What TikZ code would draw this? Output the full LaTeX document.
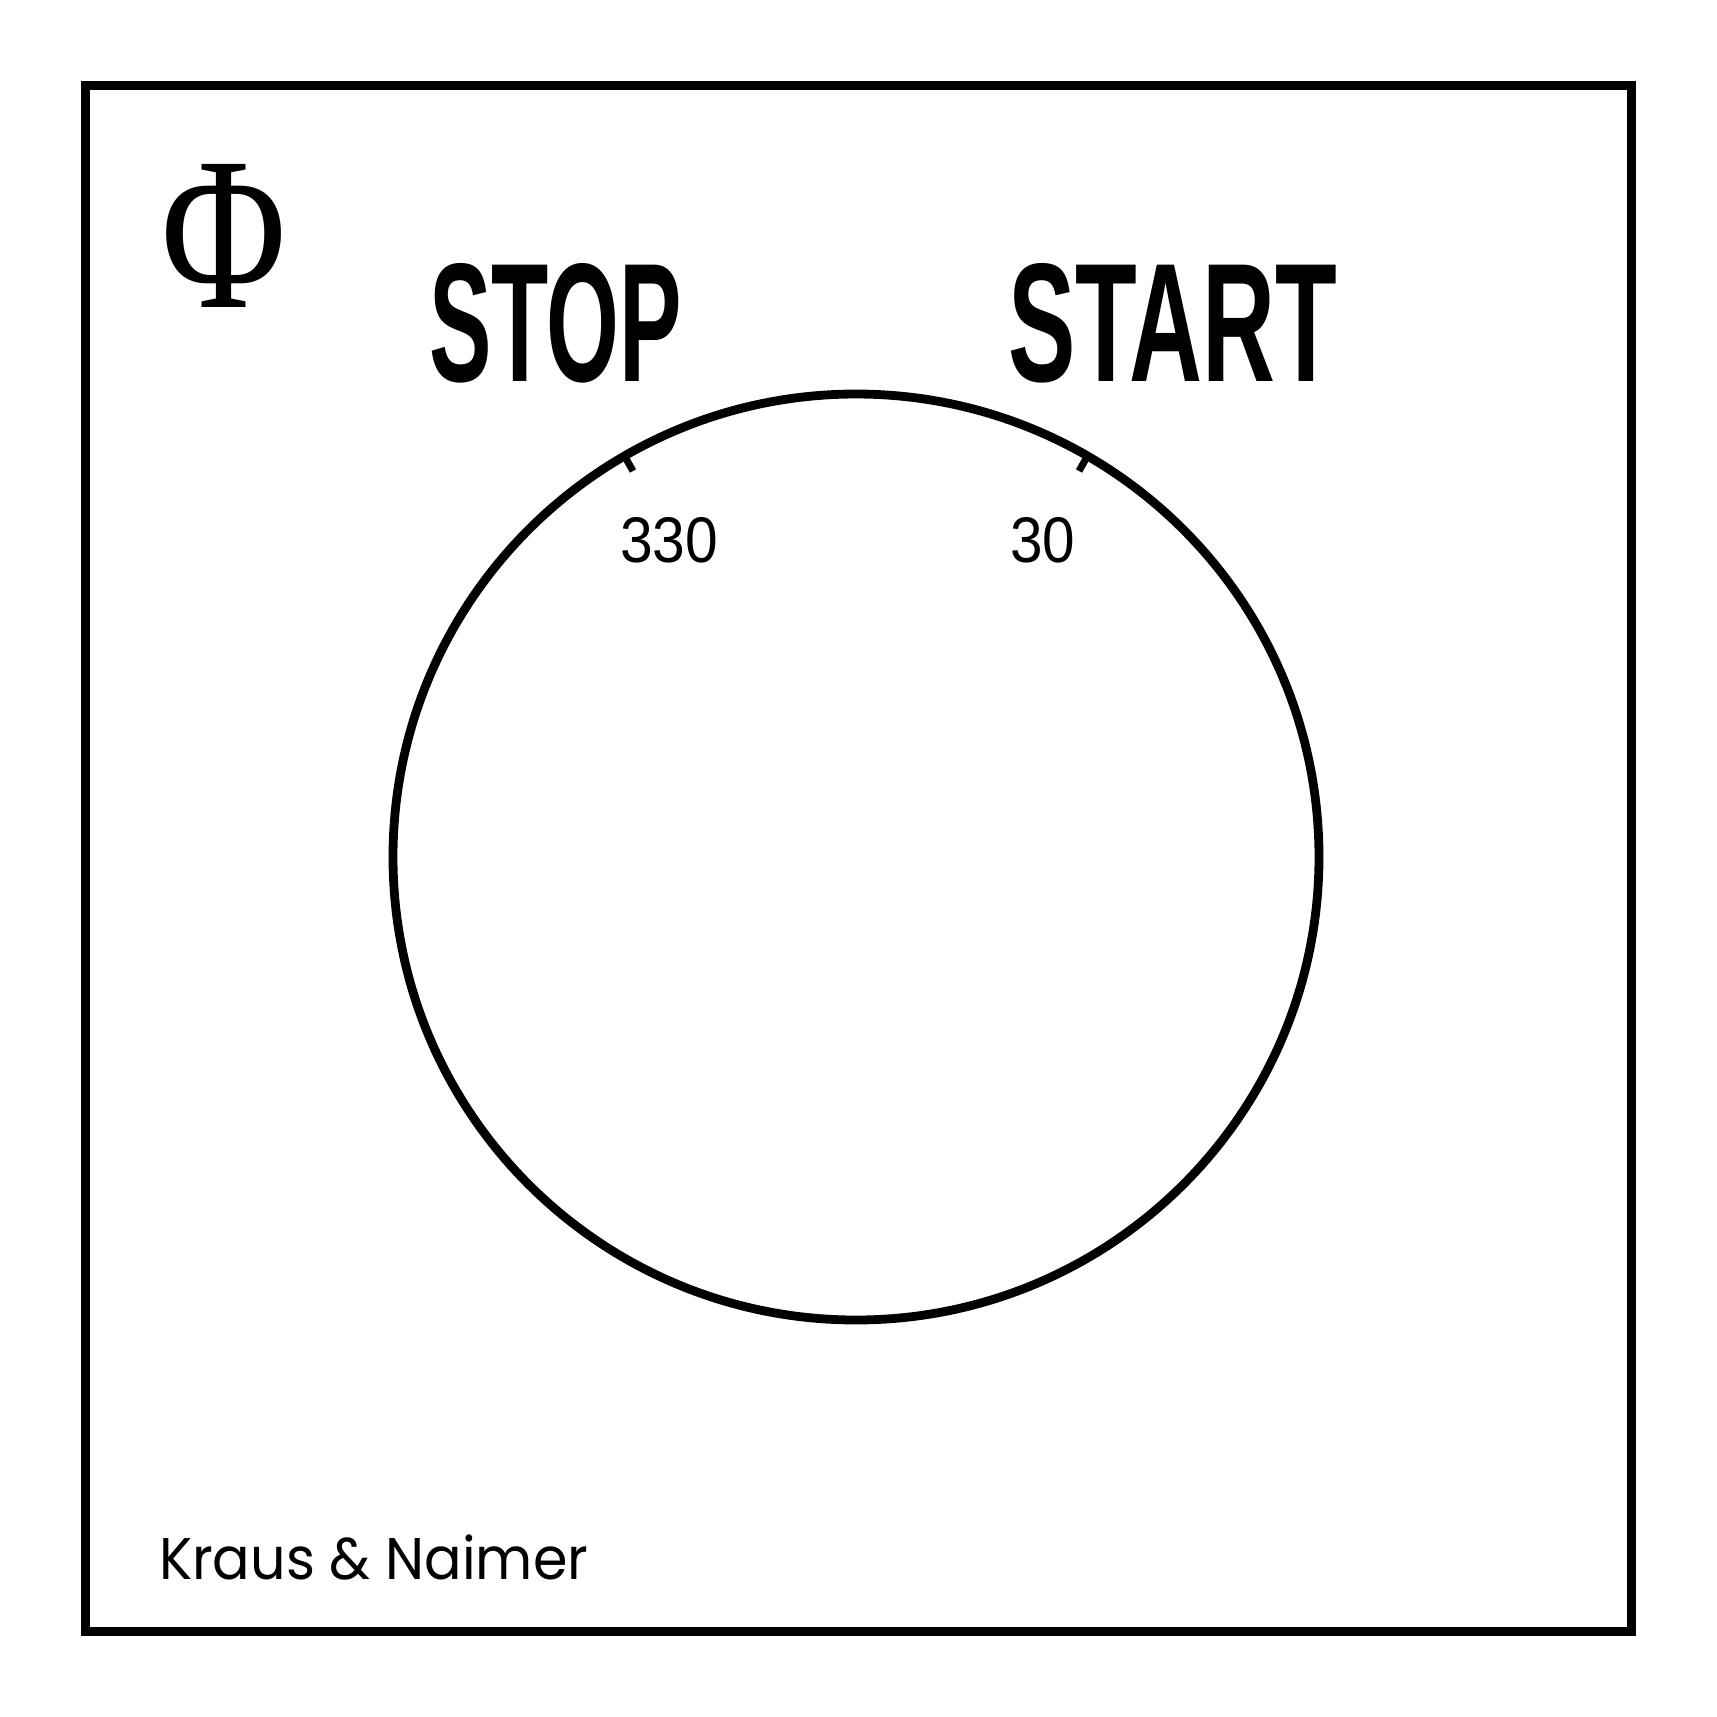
\documentclass[tikz,border=0pt]{standalone}
\usepackage{fontspec}
\setmainfont{Liberation Serif}
\setsansfont{Liberation Sans}
\newfontfamily\kn{Poppins}
\begin{document}
\begin{tikzpicture}[x=0.01cm,y=-0.01cm,
  frame/.style={line width=0.09cm},
  dial/.style={line width=0.088cm},
  tick/.style={line width=0.07cm},
  txt/.style={inner sep=0pt,outer sep=0pt,anchor=south west}]
\useasboundingbox[fill=white] (0,0) rectangle (1717,1717);
\draw[frame] (85.5,85.5) rectangle (1631.5,1631.5);
\node[txt] (phi) at (161,307) {\resizebox{1.25cm}{1.43cm}{Φ}};
\node[txt] (stop) at (429,383) {\resizebox{2.53cm}{1.18cm}{\sffamily\bfseries STOP}};
\node[txt] (start) at (1008,383) {\resizebox{3.29cm}{1.18cm}{\sffamily\bfseries START}};
\coordinate (c) at (856,857);
\draw[dial] (c) circle (463);
\coordinate (t1a) at (624.5,456);
\coordinate (t1b) at (633,471);
\coordinate (t2a) at (1087.5,456);
\coordinate (t2b) at (1079,471);
\draw[tick] (t1a) -- (t1b);
\draw[tick] (t2a) -- (t2b);
\node[txt] (n330) at (620,563) {\resizebox{0.98cm}{0.45cm}{\sffamily 330}};
\node[txt] (n30) at (1010,563) {\resizebox{0.65cm}{0.45cm}{\sffamily 30}};
\node[inner sep=0pt,outer sep=0pt,anchor=base west] (brand) at (159,1579) {\resizebox{4.29cm}{\height}{\kn\fontsize{16.7pt}{20pt}\selectfont Kraus \& Naimer}};
\end{tikzpicture}
\end{document}
